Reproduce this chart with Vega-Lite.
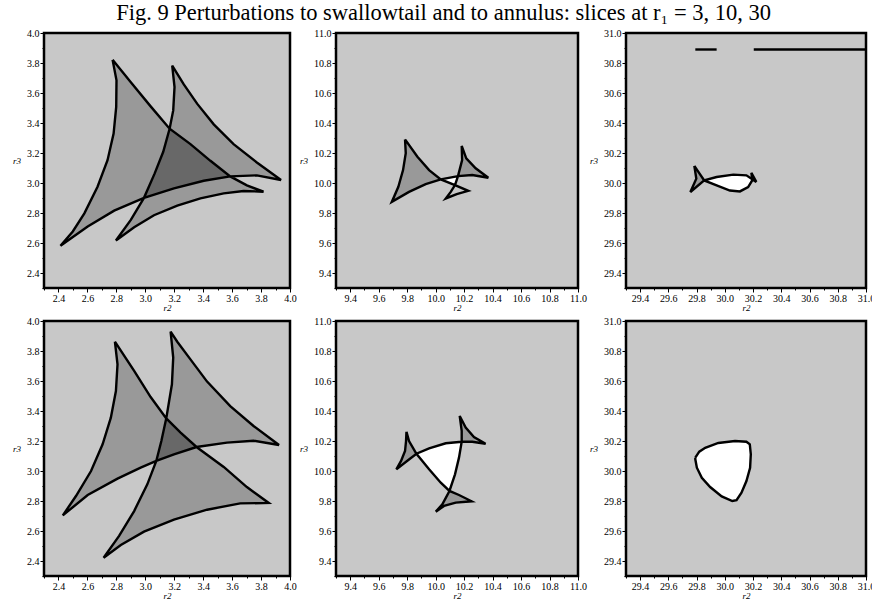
{
  "$schema": "https://vega.github.io/schema/vega-lite/v6.json",
  "padding": {"left": 11, "top": 2, "right": 0, "bottom": 0},
  "background": "#ffffff",
  "spacing": 0,
  "title": {
    "text": "Fig. 9  Perturbations to swallowtail and to annulus: slices at r₁ = 3, 10, 30",
    "font": "Liberation Serif, Times New Roman, serif",
    "fontSize": 22.5,
    "fontWeight": "normal",
    "color": "#000000",
    "anchor": "middle",
    "offset": 2
  },
  "config": {
    "view": {"fill": "#c8c8c8", "stroke": "#000000", "strokeWidth": 2.5},
    "axis": {
      "domain": false,
      "grid": false,
      "labelFont": "Liberation Serif, Times New Roman, serif",
      "labelFontSize": 10,
      "labelColor": "#000000",
      "labelPadding": 1,
      "labelFlush": false,
      "labelOverlap": false,
      "tickColor": "#000000",
      "tickWidth": 1,
      "titleFont": "Liberation Serif, Times New Roman, serif",
      "titleFontStyle": "italic",
      "titleFontWeight": "normal",
      "titleFontSize": 9,
      "titleColor": "#000000"
    },
    "axisX": {"titlePadding": 0},
    "axisY": {"titleAngle": 0, "titleAlign": "right", "titleBaseline": "middle", "titlePadding": 6}
  },
  "datasets": {
    "c1": [
      {"k":"a","x":2.774,"y":3.821},{"k":"a","x":2.801,"y":3.684},{"k":"a","x":2.799,"y":3.507},{"k":"a","x":2.781,"y":3.330},{"k":"a","x":2.739,"y":3.152},{"k":"a","x":2.670,"y":2.975},{"k":"a","x":2.579,"y":2.798},{"k":"a","x":2.499,"y":2.677},{"k":"a","x":2.414,"y":2.582},
      {"k":"a","x":2.602,"y":2.710},{"k":"a","x":2.785,"y":2.816},{"k":"a","x":2.991,"y":2.901},{"k":"a","x":3.198,"y":2.964},{"k":"a","x":3.404,"y":3.015},{"k":"a","x":3.587,"y":3.044},{"k":"a","x":3.771,"y":3.051},{"k":"a","x":3.938,"y":3.020},
      {"k":"a","x":3.771,"y":3.137},{"k":"a","x":3.610,"y":3.259},{"k":"a","x":3.473,"y":3.391},{"k":"a","x":3.358,"y":3.529},{"k":"a","x":3.266,"y":3.657},{"k":"a","x":3.186,"y":3.783},
      {"k":"a","x":3.202,"y":3.639},{"k":"a","x":3.193,"y":3.484},{"k":"a","x":3.168,"y":3.362},{"k":"a","x":3.124,"y":3.208},{"k":"a","x":3.065,"y":3.064},{"k":"a","x":2.991,"y":2.901},{"k":"a","x":2.900,"y":2.754},{"k":"a","x":2.797,"y":2.617},
      {"k":"a","x":2.923,"y":2.705},{"k":"a","x":3.060,"y":2.785},{"k":"a","x":3.221,"y":2.849},{"k":"a","x":3.381,"y":2.898},{"k":"a","x":3.542,"y":2.931},{"k":"a","x":3.679,"y":2.947},{"k":"a","x":3.817,"y":2.942},
      {"k":"a","x":3.702,"y":2.984},{"k":"a","x":3.587,"y":3.044},{"k":"a","x":3.450,"y":3.148},{"k":"a","x":3.312,"y":3.259},{"k":"a","x":3.168,"y":3.362},{"k":"a","x":3.037,"y":3.511},{"k":"a","x":2.900,"y":3.672},{"k":"a","x":2.774,"y":3.821}
    ],
    "f1": [
      {"k":"A","c":"g","x":2.774,"y":3.821},{"k":"A","c":"g","x":2.801,"y":3.684},{"k":"A","c":"g","x":2.799,"y":3.507},{"k":"A","c":"g","x":2.781,"y":3.330},{"k":"A","c":"g","x":2.739,"y":3.152},{"k":"A","c":"g","x":2.670,"y":2.975},{"k":"A","c":"g","x":2.579,"y":2.798},{"k":"A","c":"g","x":2.499,"y":2.677},{"k":"A","c":"g","x":2.414,"y":2.582},{"k":"A","c":"g","x":2.602,"y":2.710},{"k":"A","c":"g","x":2.785,"y":2.816},{"k":"A","c":"g","x":2.991,"y":2.901},{"k":"A","c":"g","x":3.198,"y":2.964},{"k":"A","c":"g","x":3.404,"y":3.015},{"k":"A","c":"g","x":3.587,"y":3.044},{"k":"A","c":"g","x":3.450,"y":3.148},{"k":"A","c":"g","x":3.312,"y":3.259},{"k":"A","c":"g","x":3.168,"y":3.362},{"k":"A","c":"g","x":3.037,"y":3.511},{"k":"A","c":"g","x":2.900,"y":3.672},
      {"k":"B","c":"g","x":3.186,"y":3.783},{"k":"B","c":"g","x":3.202,"y":3.639},{"k":"B","c":"g","x":3.193,"y":3.484},{"k":"B","c":"g","x":3.168,"y":3.362},{"k":"B","c":"g","x":3.124,"y":3.208},{"k":"B","c":"g","x":3.065,"y":3.064},{"k":"B","c":"g","x":2.991,"y":2.901},{"k":"B","c":"g","x":2.900,"y":2.754},{"k":"B","c":"g","x":2.797,"y":2.617},{"k":"B","c":"g","x":2.923,"y":2.705},{"k":"B","c":"g","x":3.060,"y":2.785},{"k":"B","c":"g","x":3.221,"y":2.849},{"k":"B","c":"g","x":3.381,"y":2.898},{"k":"B","c":"g","x":3.542,"y":2.931},{"k":"B","c":"g","x":3.679,"y":2.947},{"k":"B","c":"g","x":3.817,"y":2.942},{"k":"B","c":"g","x":3.702,"y":2.984},{"k":"B","c":"g","x":3.587,"y":3.044},{"k":"B","c":"g","x":3.771,"y":3.051},{"k":"B","c":"g","x":3.938,"y":3.020},{"k":"B","c":"g","x":3.771,"y":3.137},{"k":"B","c":"g","x":3.610,"y":3.259},{"k":"B","c":"g","x":3.473,"y":3.391},{"k":"B","c":"g","x":3.358,"y":3.529},{"k":"B","c":"g","x":3.266,"y":3.657},
      {"k":"C","c":"d","x":3.168,"y":3.362},{"k":"C","c":"d","x":3.124,"y":3.208},{"k":"C","c":"d","x":3.065,"y":3.064},{"k":"C","c":"d","x":2.991,"y":2.901},{"k":"C","c":"d","x":3.198,"y":2.964},{"k":"C","c":"d","x":3.404,"y":3.015},{"k":"C","c":"d","x":3.587,"y":3.044},{"k":"C","c":"d","x":3.450,"y":3.148},{"k":"C","c":"d","x":3.312,"y":3.259}
    ],
    "c2": [
      {"k":"a","x":9.785,"y":10.291},{"k":"a","x":9.790,"y":10.198},{"k":"a","x":9.771,"y":10.086},{"k":"a","x":9.738,"y":9.975},{"k":"a","x":9.692,"y":9.874},
      {"k":"a","x":9.813,"y":9.941},{"k":"a","x":9.930,"y":9.993},{"k":"a","x":10.036,"y":10.024},{"k":"a","x":10.157,"y":10.046},{"k":"a","x":10.257,"y":10.053},{"k":"a","x":10.370,"y":10.035},
      {"k":"a","x":10.281,"y":10.098},{"k":"a","x":10.215,"y":10.164},{"k":"a","x":10.183,"y":10.247},
      {"k":"a","x":10.186,"y":10.153},{"k":"a","x":10.157,"y":10.046},{"k":"a","x":10.136,"y":9.986},{"k":"a","x":10.106,"y":9.941},{"k":"a","x":10.071,"y":9.897},
      {"k":"a","x":10.148,"y":9.926},{"k":"a","x":10.229,"y":9.948},
      {"k":"a","x":10.136,"y":9.986},{"k":"a","x":10.036,"y":10.024},{"k":"a","x":9.954,"y":10.086},{"k":"a","x":9.872,"y":10.175},{"k":"a","x":9.785,"y":10.291}
    ],
    "f2": [
      {"k":"A","c":"g","x":9.785,"y":10.291},{"k":"A","c":"g","x":9.790,"y":10.198},{"k":"A","c":"g","x":9.771,"y":10.086},{"k":"A","c":"g","x":9.738,"y":9.975},{"k":"A","c":"g","x":9.692,"y":9.874},{"k":"A","c":"g","x":9.813,"y":9.941},{"k":"A","c":"g","x":9.930,"y":9.993},{"k":"A","c":"g","x":10.036,"y":10.024},{"k":"A","c":"g","x":9.954,"y":10.086},{"k":"A","c":"g","x":9.872,"y":10.175},
      {"k":"B","c":"g","x":10.183,"y":10.247},{"k":"B","c":"g","x":10.186,"y":10.153},{"k":"B","c":"g","x":10.157,"y":10.046},{"k":"B","c":"g","x":10.257,"y":10.053},{"k":"B","c":"g","x":10.370,"y":10.035},{"k":"B","c":"g","x":10.281,"y":10.098},{"k":"B","c":"g","x":10.215,"y":10.164},
      {"k":"W","c":"w","x":10.036,"y":10.024},{"k":"W","c":"w","x":10.157,"y":10.046},{"k":"W","c":"w","x":10.136,"y":9.986}
    ],
    "c3": [
      {"k":"a","x":29.784,"y":30.114},{"k":"a","x":29.798,"y":30.029},{"k":"a","x":29.756,"y":29.940},{"k":"a","x":29.854,"y":30.017},{"k":"a","x":29.942,"y":30.040},{"k":"a","x":30.060,"y":30.056},{"k":"a","x":30.153,"y":30.051},{"k":"a","x":30.223,"y":30.007},{"k":"a","x":30.188,"y":30.067},{"k":"a","x":30.195,"y":30.019},{"k":"a","x":30.165,"y":29.973},{"k":"a","x":30.107,"y":29.944},{"k":"a","x":30.036,"y":29.950},{"k":"a","x":29.942,"y":29.984},{"k":"a","x":29.854,"y":30.017},{"k":"a","x":29.784,"y":30.114},
      {"k":"s1","x":29.791,"y":30.89},{"k":"s1","x":29.942,"y":30.89},
      {"k":"s2","x":30.205,"y":30.89},{"k":"s2","x":31.0,"y":30.89}
    ],
    "f3": [
      {"k":"A","c":"g","x":29.784,"y":30.114},{"k":"A","c":"g","x":29.798,"y":30.029},{"k":"A","c":"g","x":29.756,"y":29.940},{"k":"A","c":"g","x":29.854,"y":30.017},
      {"k":"W","c":"w","x":29.854,"y":30.017},{"k":"W","c":"w","x":29.942,"y":30.040},{"k":"W","c":"w","x":30.060,"y":30.056},{"k":"W","c":"w","x":30.153,"y":30.051},{"k":"W","c":"w","x":30.19,"y":30.03},{"k":"W","c":"w","x":30.165,"y":29.973},{"k":"W","c":"w","x":30.107,"y":29.944},{"k":"W","c":"w","x":30.036,"y":29.950},{"k":"W","c":"w","x":29.942,"y":29.984}
    ],
    "c4": [
      {"k":"a","x":2.790,"y":3.862},{"k":"a","x":2.808,"y":3.711},{"k":"a","x":2.797,"y":3.533},{"k":"a","x":2.762,"y":3.356},{"k":"a","x":2.705,"y":3.178},{"k":"a","x":2.625,"y":3.000},{"k":"a","x":2.521,"y":2.833},{"k":"a","x":2.430,"y":2.704},
      {"k":"a","x":2.602,"y":2.840},{"k":"a","x":2.808,"y":2.949},{"k":"a","x":2.968,"y":3.022},{"k":"a","x":3.076,"y":3.067},{"k":"a","x":3.198,"y":3.111},{"k":"a","x":3.354,"y":3.160},{"k":"a","x":3.564,"y":3.189},{"k":"a","x":3.748,"y":3.202},{"k":"a","x":3.924,"y":3.173},
      {"k":"a","x":3.748,"y":3.300},{"k":"a","x":3.587,"y":3.433},{"k":"a","x":3.427,"y":3.596},{"k":"a","x":3.312,"y":3.744},{"k":"a","x":3.221,"y":3.862},{"k":"a","x":3.175,"y":3.929},
      {"k":"a","x":3.193,"y":3.756},{"k":"a","x":3.184,"y":3.578},{"k":"a","x":3.145,"y":3.351},{"k":"a","x":3.111,"y":3.200},{"k":"a","x":3.076,"y":3.067},{"k":"a","x":3.014,"y":2.911},{"k":"a","x":2.923,"y":2.733},{"k":"a","x":2.819,"y":2.567},{"k":"a","x":2.712,"y":2.422},
      {"k":"a","x":2.831,"y":2.507},{"k":"a","x":2.991,"y":2.596},{"k":"a","x":3.198,"y":2.676},{"k":"a","x":3.427,"y":2.742},{"k":"a","x":3.656,"y":2.784},{"k":"a","x":3.853,"y":2.787},
      {"k":"a","x":3.702,"y":2.893},{"k":"a","x":3.542,"y":3.027},{"k":"a","x":3.354,"y":3.160},{"k":"a","x":3.244,"y":3.256},{"k":"a","x":3.145,"y":3.351},{"k":"a","x":3.037,"y":3.493},{"k":"a","x":2.923,"y":3.667},{"k":"a","x":2.790,"y":3.862}
    ],
    "f4": [
      {"k":"A","c":"g","x":2.790,"y":3.862},{"k":"A","c":"g","x":2.808,"y":3.711},{"k":"A","c":"g","x":2.797,"y":3.533},{"k":"A","c":"g","x":2.762,"y":3.356},{"k":"A","c":"g","x":2.705,"y":3.178},{"k":"A","c":"g","x":2.625,"y":3.000},{"k":"A","c":"g","x":2.521,"y":2.833},{"k":"A","c":"g","x":2.430,"y":2.704},{"k":"A","c":"g","x":2.602,"y":2.840},{"k":"A","c":"g","x":2.808,"y":2.949},{"k":"A","c":"g","x":2.968,"y":3.022},{"k":"A","c":"g","x":3.076,"y":3.067},{"k":"A","c":"g","x":3.198,"y":3.111},{"k":"A","c":"g","x":3.354,"y":3.160},{"k":"A","c":"g","x":3.244,"y":3.256},{"k":"A","c":"g","x":3.145,"y":3.351},{"k":"A","c":"g","x":3.037,"y":3.493},{"k":"A","c":"g","x":2.923,"y":3.667},
      {"k":"B","c":"g","x":3.175,"y":3.929},{"k":"B","c":"g","x":3.193,"y":3.756},{"k":"B","c":"g","x":3.184,"y":3.578},{"k":"B","c":"g","x":3.145,"y":3.351},{"k":"B","c":"g","x":3.111,"y":3.200},{"k":"B","c":"g","x":3.076,"y":3.067},{"k":"B","c":"g","x":3.014,"y":2.911},{"k":"B","c":"g","x":2.923,"y":2.733},{"k":"B","c":"g","x":2.819,"y":2.567},{"k":"B","c":"g","x":2.712,"y":2.422},{"k":"B","c":"g","x":2.831,"y":2.507},{"k":"B","c":"g","x":2.991,"y":2.596},{"k":"B","c":"g","x":3.198,"y":2.676},{"k":"B","c":"g","x":3.427,"y":2.742},{"k":"B","c":"g","x":3.656,"y":2.784},{"k":"B","c":"g","x":3.853,"y":2.787},{"k":"B","c":"g","x":3.702,"y":2.893},{"k":"B","c":"g","x":3.542,"y":3.027},{"k":"B","c":"g","x":3.354,"y":3.160},{"k":"B","c":"g","x":3.564,"y":3.189},{"k":"B","c":"g","x":3.748,"y":3.202},{"k":"B","c":"g","x":3.924,"y":3.173},{"k":"B","c":"g","x":3.748,"y":3.300},{"k":"B","c":"g","x":3.587,"y":3.433},{"k":"B","c":"g","x":3.427,"y":3.596},{"k":"B","c":"g","x":3.312,"y":3.744},{"k":"B","c":"g","x":3.221,"y":3.862},
      {"k":"C","c":"d","x":3.145,"y":3.351},{"k":"C","c":"d","x":3.111,"y":3.200},{"k":"C","c":"d","x":3.076,"y":3.067},{"k":"C","c":"d","x":3.198,"y":3.111},{"k":"C","c":"d","x":3.354,"y":3.160},{"k":"C","c":"d","x":3.244,"y":3.256}
    ],
    "c5": [
      {"k":"a","x":9.795,"y":10.262},{"k":"a","x":9.813,"y":10.200},{"k":"a","x":9.865,"y":10.115},{"k":"a","x":9.954,"y":10.011},{"k":"a","x":10.036,"y":9.922},{"k":"a","x":10.097,"y":9.867},{"k":"a","x":10.164,"y":9.840},{"k":"a","x":10.253,"y":9.798},
      {"k":"a","x":10.141,"y":9.789},{"k":"a","x":10.059,"y":9.767},{"k":"a","x":10.001,"y":9.729},
      {"k":"a","x":10.047,"y":9.778},{"k":"a","x":10.097,"y":9.867},{"k":"a","x":10.136,"y":9.978},{"k":"a","x":10.164,"y":10.089},{"k":"a","x":10.183,"y":10.195},{"k":"a","x":10.183,"y":10.267},{"k":"a","x":10.169,"y":10.367},
      {"k":"a","x":10.211,"y":10.289},{"k":"a","x":10.269,"y":10.227},{"k":"a","x":10.351,"y":10.182},
      {"k":"a","x":10.257,"y":10.195},{"k":"a","x":10.183,"y":10.195},{"k":"a","x":10.071,"y":10.185},{"k":"a","x":9.954,"y":10.151},{"k":"a","x":9.865,"y":10.115},{"k":"a","x":9.799,"y":10.067},{"k":"a","x":9.724,"y":10.011},
      {"k":"a","x":9.757,"y":10.067},{"k":"a","x":9.785,"y":10.133},{"k":"a","x":9.792,"y":10.200},{"k":"a","x":9.795,"y":10.262}
    ],
    "f5": [
      {"k":"A","c":"g","x":9.795,"y":10.262},{"k":"A","c":"g","x":9.813,"y":10.200},{"k":"A","c":"g","x":9.865,"y":10.115},{"k":"A","c":"g","x":9.799,"y":10.067},{"k":"A","c":"g","x":9.724,"y":10.011},{"k":"A","c":"g","x":9.757,"y":10.067},{"k":"A","c":"g","x":9.785,"y":10.133},{"k":"A","c":"g","x":9.792,"y":10.200},
      {"k":"B","c":"g","x":10.169,"y":10.367},{"k":"B","c":"g","x":10.211,"y":10.289},{"k":"B","c":"g","x":10.269,"y":10.227},{"k":"B","c":"g","x":10.351,"y":10.182},{"k":"B","c":"g","x":10.257,"y":10.195},{"k":"B","c":"g","x":10.183,"y":10.195},{"k":"B","c":"g","x":10.183,"y":10.267},
      {"k":"C","c":"g","x":10.097,"y":9.867},{"k":"C","c":"g","x":10.164,"y":9.840},{"k":"C","c":"g","x":10.253,"y":9.798},{"k":"C","c":"g","x":10.141,"y":9.789},{"k":"C","c":"g","x":10.059,"y":9.767},{"k":"C","c":"g","x":10.001,"y":9.729},{"k":"C","c":"g","x":10.047,"y":9.778},
      {"k":"W","c":"w","x":9.865,"y":10.115},{"k":"W","c":"w","x":9.954,"y":10.011},{"k":"W","c":"w","x":10.036,"y":9.922},{"k":"W","c":"w","x":10.097,"y":9.867},{"k":"W","c":"w","x":10.136,"y":9.978},{"k":"W","c":"w","x":10.164,"y":10.089},{"k":"W","c":"w","x":10.183,"y":10.195},{"k":"W","c":"w","x":10.071,"y":10.185},{"k":"W","c":"w","x":9.954,"y":10.151}
    ],
    "c6": [
      {"k":"a","x":29.791,"y":30.089},{"k":"a","x":29.819,"y":30.129},{"k":"a","x":29.861,"y":30.155},{"k":"a","x":29.954,"y":30.187},{"k":"a","x":30.072,"y":30.200},{"k":"a","x":30.153,"y":30.195},{"k":"a","x":30.177,"y":30.178},{"k":"a","x":30.184,"y":30.111},{"k":"a","x":30.179,"y":30.022},{"k":"a","x":30.153,"y":29.933},{"k":"a","x":30.118,"y":29.855},{"k":"a","x":30.083,"y":29.805},{"k":"a","x":30.053,"y":29.800},{"k":"a","x":29.978,"y":29.831},{"k":"a","x":29.896,"y":29.893},{"k":"a","x":29.837,"y":29.955},{"k":"a","x":29.802,"y":30.022},{"k":"a","x":29.791,"y":30.078},{"k":"a","x":29.791,"y":30.089}
    ],
    "f6": [
      {"k":"W","c":"w","x":29.791,"y":30.089},{"k":"W","c":"w","x":29.819,"y":30.129},{"k":"W","c":"w","x":29.861,"y":30.155},{"k":"W","c":"w","x":29.954,"y":30.187},{"k":"W","c":"w","x":30.072,"y":30.200},{"k":"W","c":"w","x":30.153,"y":30.195},{"k":"W","c":"w","x":30.177,"y":30.178},{"k":"W","c":"w","x":30.184,"y":30.111},{"k":"W","c":"w","x":30.179,"y":30.022},{"k":"W","c":"w","x":30.153,"y":29.933},{"k":"W","c":"w","x":30.118,"y":29.855},{"k":"W","c":"w","x":30.083,"y":29.805},{"k":"W","c":"w","x":30.053,"y":29.800},{"k":"W","c":"w","x":29.978,"y":29.831},{"k":"W","c":"w","x":29.896,"y":29.893},{"k":"W","c":"w","x":29.837,"y":29.955},{"k":"W","c":"w","x":29.802,"y":30.022},{"k":"W","c":"w","x":29.791,"y":30.078}
    ]
  },
  "vconcat": [
    {
      "spacing": 0,
      "hconcat": [
        {
          "width": 246, "height": 255,
          "encoding": {
            "x": {"field": "x", "type": "quantitative", "scale": {"domain": [2.3, 4.0], "nice": false, "zero": false},
              "axis": {"title": "r2", "values": [2.3,2.4,2.5,2.6,2.7,2.8,2.9,3.0,3.1,3.2,3.3,3.4,3.5,3.6,3.7,3.8,3.9,4.0],
                "labelExpr": "round(datum.value*10) % 2 == 0 ? format(datum.value, '.1f') : ''",
                "tickSize": {"condition": {"test": "round(datum.value*10) % 2 == 0", "value": 4}, "value": 2}}},
            "y": {"field": "y", "type": "quantitative", "scale": {"domain": [2.3, 4.0], "nice": false, "zero": false},
              "axis": {"title": "r3", "values": [2.3,2.4,2.5,2.6,2.7,2.8,2.9,3.0,3.1,3.2,3.3,3.4,3.5,3.6,3.7,3.8,3.9,4.0],
                "labelExpr": "round(datum.value*10) % 2 == 0 ? format(datum.value, '.1f') : ''",
                "tickSize": {"condition": {"test": "round(datum.value*10) % 2 == 0", "value": 4}, "value": 2}}},
            "order": {"value": null}
          },
          "layer": [
            {"data": {"name": "f1"}, "transform": [{"filter": "datum.c == 'g'"}], "mark": {"type": "line", "fill": "#999999", "strokeWidth": 0}, "encoding": {"detail": {"field": "k"}}},
            {"data": {"name": "f1"}, "transform": [{"filter": "datum.c != 'g'"}], "mark": {"type": "line", "strokeWidth": 0}, "encoding": {"detail": {"field": "k"}, "fill": {"field": "c", "type": "nominal", "scale": {"domain": ["d", "w"], "range": ["#686868", "#ffffff"]}, "legend": null}}},
            {"data": {"name": "c1"}, "mark": {"type": "line", "stroke": "#000000", "strokeWidth": 2.4}, "encoding": {"detail": {"field": "k"}}}
          ]
        },
        {
          "width": 242, "height": 255,
          "encoding": {
            "x": {"field": "x", "type": "quantitative", "scale": {"domain": [9.3, 11.0], "nice": false, "zero": false},
              "axis": {"title": "r2", "values": [9.3,9.4,9.5,9.6,9.7,9.8,9.9,10.0,10.1,10.2,10.3,10.4,10.5,10.6,10.7,10.8,10.9,11.0],
                "labelExpr": "round(datum.value*10) % 2 == 0 ? format(datum.value, '.1f') : ''",
                "tickSize": {"condition": {"test": "round(datum.value*10) % 2 == 0", "value": 4}, "value": 2}}},
            "y": {"field": "y", "type": "quantitative", "scale": {"domain": [9.3, 11.0], "nice": false, "zero": false},
              "axis": {"title": "r3", "values": [9.3,9.4,9.5,9.6,9.7,9.8,9.9,10.0,10.1,10.2,10.3,10.4,10.5,10.6,10.7,10.8,10.9,11.0],
                "labelExpr": "round(datum.value*10) % 2 == 0 ? format(datum.value, '.1f') : ''",
                "tickSize": {"condition": {"test": "round(datum.value*10) % 2 == 0", "value": 4}, "value": 2}}},
            "order": {"value": null}
          },
          "layer": [
            {"data": {"name": "f2"}, "transform": [{"filter": "datum.c == 'g'"}], "mark": {"type": "line", "fill": "#999999", "strokeWidth": 0}, "encoding": {"detail": {"field": "k"}}},
            {"data": {"name": "f2"}, "transform": [{"filter": "datum.c != 'g'"}], "mark": {"type": "line", "strokeWidth": 0}, "encoding": {"detail": {"field": "k"}, "fill": {"field": "c", "type": "nominal", "scale": {"domain": ["d", "w"], "range": ["#686868", "#ffffff"]}, "legend": null}}},
            {"data": {"name": "c2"}, "mark": {"type": "line", "stroke": "#000000", "strokeWidth": 2.4}, "encoding": {"detail": {"field": "k"}}}
          ]
        },
        {
          "width": 240, "height": 255,
          "encoding": {
            "x": {"field": "x", "type": "quantitative", "scale": {"domain": [29.3, 31.0], "nice": false, "zero": false},
              "axis": {"title": "r2", "values": [29.3,29.4,29.5,29.6,29.7,29.8,29.9,30.0,30.1,30.2,30.3,30.4,30.5,30.6,30.7,30.8,30.9,31.0],
                "labelExpr": "round(datum.value*10) % 2 == 0 ? format(datum.value, '.1f') : ''",
                "tickSize": {"condition": {"test": "round(datum.value*10) % 2 == 0", "value": 4}, "value": 2}}},
            "y": {"field": "y", "type": "quantitative", "scale": {"domain": [29.3, 31.0], "nice": false, "zero": false},
              "axis": {"title": "r3", "values": [29.3,29.4,29.5,29.6,29.7,29.8,29.9,30.0,30.1,30.2,30.3,30.4,30.5,30.6,30.7,30.8,30.9,31.0],
                "labelExpr": "round(datum.value*10) % 2 == 0 ? format(datum.value, '.1f') : ''",
                "tickSize": {"condition": {"test": "round(datum.value*10) % 2 == 0", "value": 4}, "value": 2}}},
            "order": {"value": null}
          },
          "layer": [
            {"data": {"name": "f3"}, "transform": [{"filter": "datum.c == 'g'"}], "mark": {"type": "line", "fill": "#999999", "strokeWidth": 0}, "encoding": {"detail": {"field": "k"}}},
            {"data": {"name": "f3"}, "transform": [{"filter": "datum.c != 'g'"}], "mark": {"type": "line", "strokeWidth": 0}, "encoding": {"detail": {"field": "k"}, "fill": {"field": "c", "type": "nominal", "scale": {"domain": ["d", "w"], "range": ["#686868", "#ffffff"]}, "legend": null}}},
            {"data": {"name": "c3"}, "mark": {"type": "line", "stroke": "#000000", "strokeWidth": 2.4}, "encoding": {"detail": {"field": "k"}}}
          ]
        }
      ]
    },
    {
      "spacing": 0,
      "hconcat": [
        {
          "width": 246, "height": 255,
          "encoding": {
            "x": {"field": "x", "type": "quantitative", "scale": {"domain": [2.3, 4.0], "nice": false, "zero": false},
              "axis": {"title": "r2", "values": [2.3,2.4,2.5,2.6,2.7,2.8,2.9,3.0,3.1,3.2,3.3,3.4,3.5,3.6,3.7,3.8,3.9,4.0],
                "labelExpr": "round(datum.value*10) % 2 == 0 ? format(datum.value, '.1f') : ''",
                "tickSize": {"condition": {"test": "round(datum.value*10) % 2 == 0", "value": 4}, "value": 2}}},
            "y": {"field": "y", "type": "quantitative", "scale": {"domain": [2.3, 4.0], "nice": false, "zero": false},
              "axis": {"title": "r3", "values": [2.3,2.4,2.5,2.6,2.7,2.8,2.9,3.0,3.1,3.2,3.3,3.4,3.5,3.6,3.7,3.8,3.9,4.0],
                "labelExpr": "round(datum.value*10) % 2 == 0 ? format(datum.value, '.1f') : ''",
                "tickSize": {"condition": {"test": "round(datum.value*10) % 2 == 0", "value": 4}, "value": 2}}},
            "order": {"value": null}
          },
          "layer": [
            {"data": {"name": "f4"}, "transform": [{"filter": "datum.c == 'g'"}], "mark": {"type": "line", "fill": "#999999", "strokeWidth": 0}, "encoding": {"detail": {"field": "k"}}},
            {"data": {"name": "f4"}, "transform": [{"filter": "datum.c != 'g'"}], "mark": {"type": "line", "strokeWidth": 0}, "encoding": {"detail": {"field": "k"}, "fill": {"field": "c", "type": "nominal", "scale": {"domain": ["d", "w"], "range": ["#686868", "#ffffff"]}, "legend": null}}},
            {"data": {"name": "c4"}, "mark": {"type": "line", "stroke": "#000000", "strokeWidth": 2.4}, "encoding": {"detail": {"field": "k"}}}
          ]
        },
        {
          "width": 242, "height": 255,
          "encoding": {
            "x": {"field": "x", "type": "quantitative", "scale": {"domain": [9.3, 11.0], "nice": false, "zero": false},
              "axis": {"title": "r2", "values": [9.3,9.4,9.5,9.6,9.7,9.8,9.9,10.0,10.1,10.2,10.3,10.4,10.5,10.6,10.7,10.8,10.9,11.0],
                "labelExpr": "round(datum.value*10) % 2 == 0 ? format(datum.value, '.1f') : ''",
                "tickSize": {"condition": {"test": "round(datum.value*10) % 2 == 0", "value": 4}, "value": 2}}},
            "y": {"field": "y", "type": "quantitative", "scale": {"domain": [9.3, 11.0], "nice": false, "zero": false},
              "axis": {"title": "r3", "values": [9.3,9.4,9.5,9.6,9.7,9.8,9.9,10.0,10.1,10.2,10.3,10.4,10.5,10.6,10.7,10.8,10.9,11.0],
                "labelExpr": "round(datum.value*10) % 2 == 0 ? format(datum.value, '.1f') : ''",
                "tickSize": {"condition": {"test": "round(datum.value*10) % 2 == 0", "value": 4}, "value": 2}}},
            "order": {"value": null}
          },
          "layer": [
            {"data": {"name": "f5"}, "transform": [{"filter": "datum.c == 'g'"}], "mark": {"type": "line", "fill": "#999999", "strokeWidth": 0}, "encoding": {"detail": {"field": "k"}}},
            {"data": {"name": "f5"}, "transform": [{"filter": "datum.c != 'g'"}], "mark": {"type": "line", "strokeWidth": 0}, "encoding": {"detail": {"field": "k"}, "fill": {"field": "c", "type": "nominal", "scale": {"domain": ["d", "w"], "range": ["#686868", "#ffffff"]}, "legend": null}}},
            {"data": {"name": "c5"}, "mark": {"type": "line", "stroke": "#000000", "strokeWidth": 2.4}, "encoding": {"detail": {"field": "k"}}}
          ]
        },
        {
          "width": 240, "height": 255,
          "encoding": {
            "x": {"field": "x", "type": "quantitative", "scale": {"domain": [29.3, 31.0], "nice": false, "zero": false},
              "axis": {"title": "r2", "values": [29.3,29.4,29.5,29.6,29.7,29.8,29.9,30.0,30.1,30.2,30.3,30.4,30.5,30.6,30.7,30.8,30.9,31.0],
                "labelExpr": "round(datum.value*10) % 2 == 0 ? format(datum.value, '.1f') : ''",
                "tickSize": {"condition": {"test": "round(datum.value*10) % 2 == 0", "value": 4}, "value": 2}}},
            "y": {"field": "y", "type": "quantitative", "scale": {"domain": [29.3, 31.0], "nice": false, "zero": false},
              "axis": {"title": "r3", "values": [29.3,29.4,29.5,29.6,29.7,29.8,29.9,30.0,30.1,30.2,30.3,30.4,30.5,30.6,30.7,30.8,30.9,31.0],
                "labelExpr": "round(datum.value*10) % 2 == 0 ? format(datum.value, '.1f') : ''",
                "tickSize": {"condition": {"test": "round(datum.value*10) % 2 == 0", "value": 4}, "value": 2}}},
            "order": {"value": null}
          },
          "layer": [
            {"data": {"name": "f6"}, "transform": [{"filter": "datum.c == 'g'"}], "mark": {"type": "line", "fill": "#999999", "strokeWidth": 0}, "encoding": {"detail": {"field": "k"}}},
            {"data": {"name": "f6"}, "transform": [{"filter": "datum.c != 'g'"}], "mark": {"type": "line", "strokeWidth": 0}, "encoding": {"detail": {"field": "k"}, "fill": {"field": "c", "type": "nominal", "scale": {"domain": ["d", "w"], "range": ["#686868", "#ffffff"]}, "legend": null}}},
            {"data": {"name": "c6"}, "mark": {"type": "line", "stroke": "#000000", "strokeWidth": 2.4}, "encoding": {"detail": {"field": "k"}}}
          ]
        }
      ]
    }
  ]
}
